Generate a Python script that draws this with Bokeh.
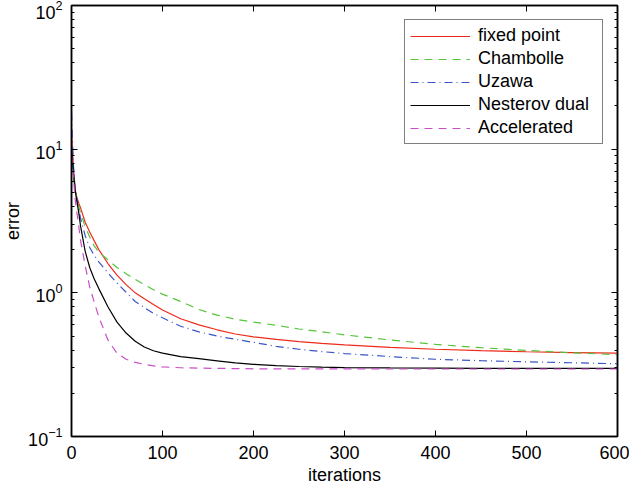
from bokeh.plotting import figure
from bokeh.models import Range1d, LinearAxis, LogAxis, LogTicker, FixedTicker, Legend, LegendItem
from bokeh.embed import file_html
from bokeh.resources import INLINE

iters = [0, 2, 4, 6, 8, 10, 15, 20, 25, 30, 40, 50, 60, 70, 80, 90, 100, 120, 140,
         160, 180, 200, 225, 250, 275, 300, 350, 400, 450, 500, 550, 600]

fixed_point = [14, 7.5, 5.2, 4.6, 4.2, 3.9, 3.1, 2.65, 2.3, 2.0, 1.6, 1.33, 1.14, 1.0,
               0.91, 0.83, 0.76, 0.66, 0.598, 0.553, 0.517, 0.494, 0.475, 0.458,
               0.445, 0.434, 0.417, 0.405, 0.396, 0.389, 0.384, 0.38]
chambolle = [10, 7, 5.1, 4.5, 4.0, 3.6, 2.9, 2.45, 2.12, 1.92, 1.7, 1.5, 1.36, 1.24,
             1.14, 1.05, 0.98, 0.87, 0.765, 0.70, 0.655, 0.625, 0.595, 0.56, 0.535,
             0.51, 0.47, 0.438, 0.415, 0.397, 0.383, 0.371]
uzawa = [18, 8, 5.2, 4.5, 3.8, 3.3, 2.5, 2.07, 1.82, 1.64, 1.38, 1.17, 1.01, 0.87,
         0.79, 0.72, 0.67, 0.585, 0.535, 0.5, 0.475, 0.452, 0.424, 0.405, 0.39,
         0.378, 0.36, 0.345, 0.337, 0.331, 0.326, 0.321]
nesterov = [10, 7, 5.2, 4.3, 3.6, 2.9, 1.95, 1.5, 1.25, 1.07, 0.8, 0.625, 0.525, 0.46,
            0.42, 0.395, 0.38, 0.36, 0.348, 0.336, 0.325, 0.318, 0.311, 0.307,
            0.304, 0.302, 0.3, 0.299, 0.298, 0.298, 0.298, 0.298]
accelerated = [9, 6.5, 4.5, 3.6, 2.9, 2.3, 1.55, 1.1, 0.86, 0.68, 0.47, 0.38, 0.345,
               0.328, 0.318, 0.31, 0.305, 0.301, 0.299, 0.298, 0.297, 0.296, 0.296,
               0.296, 0.296, 0.296, 0.295, 0.295, 0.295, 0.295, 0.295, 0.295]

series_names = ["fixed point", "Chambolle", "Uzawa", "Nesterov dual", "Accelerated"]
series_data = [fixed_point, chambolle, uzawa, nesterov, accelerated]
colors = ["#ee2a1b", "#55c43a", "#3a55c4", "#000000", "#c84fc8"]
dashes = ["solid", "8 6", "8 4 1 4", "solid", "8 6"]

x_ticks = [0, 100, 200, 300, 400, 500, 600]

FONT = "Liberation Sans"

p = figure(frame_width=546, frame_height=431, output_backend="svg", toolbar_location=None,
           y_axis_type="log", x_range=Range1d(0, 600), y_range=Range1d(0.1, 100),
           min_border_left=10, min_border_top=5, min_border_right=12, min_border_bottom=10)
p.grid.visible = False
p.outline_line_color = "black"
p.outline_line_width = 1.5
p.background_fill_color = "white"

items = []
for name, ys, c, d in zip(series_names, series_data, colors, dashes):
    r = p.line(iters, ys, line_color=c, line_width=1.2, line_dash=d)
    items.append(LegendItem(label=name, renderers=[r]))

def style(ax):
    ax.axis_line_color = "black"
    ax.axis_line_width = 1.5
    ax.major_tick_in = 6
    ax.major_tick_out = 0
    ax.minor_tick_in = 3
    ax.minor_tick_out = 0
    ax.major_label_text_font = FONT
    ax.major_label_text_font_size = "18px"
    ax.major_label_text_color = "black"
    ax.axis_label_text_font = FONT
    ax.axis_label_text_font_size = "18px"
    ax.axis_label_text_font_style = "normal"
    ax.axis_label_text_color = "black"

xa = p.xaxis[0]
style(xa)
xa.ticker = FixedTicker(ticks=x_ticks)
xa.axis_label = "iterations"
xa.axis_label_standoff = 3
xa.major_label_standoff = 9

ya = p.yaxis[0]
style(ya)
ya.ticker = LogTicker(num_minor_ticks=10)
ya.axis_label = "error"
ya.axis_label_standoff = 2
ya.major_label_standoff = 9

top = LinearAxis(ticker=FixedTicker(ticks=x_ticks))
style(top)
top.major_label_text_font_size = "1px"
top.major_label_text_alpha = 0
top.major_label_standoff = 0
p.add_layout(top, "above")

right = LogAxis(ticker=LogTicker(num_minor_ticks=10))
style(right)
right.major_label_text_font_size = "1px"
right.major_label_text_alpha = 0
right.major_label_standoff = 0
p.add_layout(right, "right")

legend = Legend(items=items, location="top_right")
legend.label_text_font = FONT
legend.label_text_font_size = "18px"
legend.label_text_color = "black"
legend.glyph_width = 60
legend.glyph_height = 20
legend.label_height = 20
legend.label_width = 119
legend.label_standoff = 8
legend.spacing = 2
legend.padding = 5
legend.margin = 14
legend.border_line_color = "black"
legend.border_line_width = 1.5
legend.background_fill_alpha = 1
p.add_layout(legend, "center")

open("out.html", "w").write(file_html(p, INLINE))
